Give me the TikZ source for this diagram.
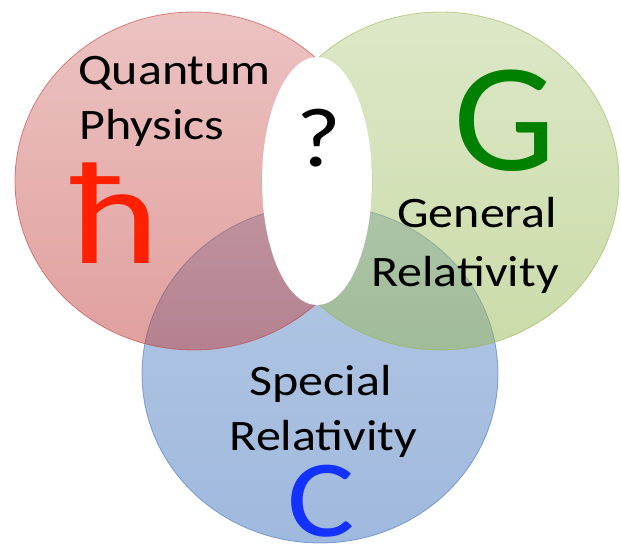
\documentclass[tikz,border=0pt]{standalone}
\usepackage{fontspec}
\newfontfamily\calfont[FakeStretch=1.15]{Carlito}
\newfontfamily\calGfont[FakeStretch=1.05]{Carlito}
\definecolor{redT}{RGB}{217,135,133}
\definecolor{redB}{RGB}{193,65,61}
\definecolor{greenT}{RGB}{187,209,145}
\definecolor{greenB}{RGB}{151,183,81}
\definecolor{blueT}{RGB}{105,145,201}
\definecolor{blueB}{RGB}{65,115,189}
\definecolor{hbarred}{RGB}{255,32,0}
\definecolor{ggreen}{RGB}{0,128,0}
\definecolor{cblue}{RGB}{20,50,255}
\begin{document}
\begin{tikzpicture}[x=1pt,y=1pt,
  lbl/.style={inner sep=0pt,font=\calfont\fontsize{43.5}{50}\selectfont,text=black},
  bigsym/.style={inner sep=0pt,text depth=0pt},
  venn/.style={fill opacity=0.5,draw opacity=0.6,line width=0.8pt}]
\useasboundingbox (0,0) rectangle (621,-545);
\shade[venn, top color=blueT, bottom color=blueB, draw=blueB] (320,-374) ellipse [x radius=178, y radius=169];
\shade[venn, top color=redT, bottom color=redB, draw=redB] (193.5,-181) ellipse [x radius=178.5, y radius=169];
\shade[venn, top color=greenT, bottom color=greenB, draw=greenB] (440.5,-181) ellipse [x radius=178.5, y radius=169];
\fill[white] (317,-181) ellipse [x radius=55, y radius=124];
\node[lbl, anchor=base west] (q1) at (78,-85) {Quantum};
\node[lbl, anchor=base west] (q2) at (79,-140) {Physics};
\node[lbl, anchor=base east] (g1) at (557,-228) {General};
\node[lbl, anchor=base east] (g2) at (559,-287) {Relativity};
\node[lbl, anchor=base] (s1) at (320.5,-395) {Special};
\node[lbl, anchor=base] (s2) at (323.5,-450) {Relativity};
\node[bigsym, anchor=base west, text=hbarred, font=\calfont\fontsize{145}{150}\selectfont] (hbar) at (70,-264) {ħ};
\node[bigsym, anchor=base, text=ggreen, font=\calGfont\fontsize{155}{160}\selectfont] (G) at (505,-171) {G};
\node[bigsym, anchor=base, text=cblue, font=\calfont\fontsize{110}{120}\selectfont] (C) at (321,-536) {C};
\node[bigsym, anchor=base, text=black, font=\calfont\fontsize{84}{90}\selectfont] (qm) at (319,-167) {?};
\end{tikzpicture}
\end{document}
